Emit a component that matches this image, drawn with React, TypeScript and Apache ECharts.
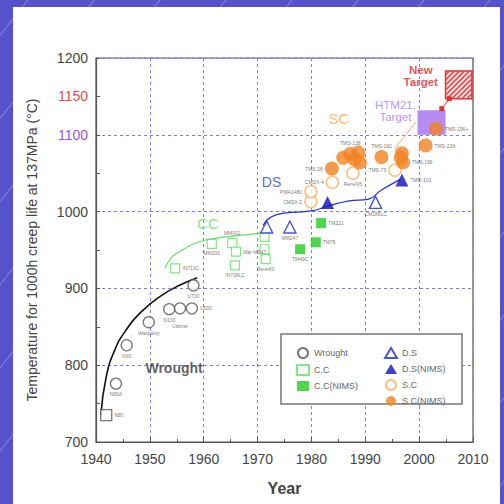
import React, { useEffect, useRef } from 'react';
import * as echarts from 'echarts';

// ---------- data ----------
const xTicks = [1940, 2010];
const yTicks = [700, 1200];
const yLabelled = [700, 800, 900, 1000, 1100, 1150, 1200];

const wroughtYears = [1941.9, 1943.7, 1945.7, 1949.8, 1953.6, 1955.6, 1957.8, 1958.1];
const wroughtTemps = [735, 776, 826, 856, 873, 874, 874, 904];
const wroughtNames = ['N80', 'N80A', 'N90', 'Waspaloy', 'N100', 'Udimet', 'U500', 'U700'];

const ccYears = [1954.7, 1961.5, 1965.3, 1966.0, 1965.8, 1971.3, 1971.3, 1971.5];
const ccTemps = [926, 958, 959, 948, 930, 967, 951, 938];
const ccNames = ['IN713C', 'MM200', 'MM002', 'Mar-M247', 'IN738LC', '', '', 'Rene80'];

const ccnYears = [1977.9, 1980.8, 1981.8];
const ccnTemps = [951, 960, 985];
const ccnNames = ['TM49C', 'TM76', 'TM321'];

const dsYears = [1971.7, 1976.0, 1991.9];
const dsTemps = [980, 980, 1012];
const dsNames = ['', 'MM247', 'CM186LC'];

const dsnYears = [1983.0, 1996.8];
const dsnTemps = [1012, 1041];
const dsnNames = ['', 'TMD-103'];

const scYears = [1979.9, 1979.9, 1983.9, 1987.7, 1995.5];
const scTemps = [1013, 1026, 1038, 1050, 1054];
const scNames = ['CMSX-2', 'PWA1480', 'CMSX-4', 'ReneN5', 'TMS-75'];

const scnYears = [1983.8, 1985.9, 1987.2, 1988.7, 1989.0, 1988.0, 1993.0, 1996.8, 1997.0, 1996.6, 2001.2, 2003.1];
const scnTemps = [1056, 1070, 1075, 1077, 1064, 1068, 1071, 1076, 1064, 1070, 1086, 1108];
const scnNames = ['TMS-26', '', 'TMS-138', '', '', '', 'TMS-162', '', 'TMS-196', '', 'TMS-238', 'TMS-196+'];

const wroughtCurveYears = [1940.9, 1941.9, 1943.5, 1945.5, 1948.5, 1952.0, 1955.5, 1958.8];
const wroughtCurveTemps = [735, 785, 820, 845, 870, 890, 904, 914];

const ccCurveYears = [1952.8, 1954.0, 1955.6, 1959.3, 1964.3, 1970.4, 1972.0];
const ccCurveTemps = [926, 940, 948, 961, 967, 972, 974];

const dsCurveYears = [1971.0, 1972.5, 1975.0, 1980.0, 1983.0, 1987.0, 1990.5, 1993.0, 1996.5];
const dsCurveTemps = [982, 993, 998, 1001, 1007, 1014, 1016, 1028, 1042];

const scArrowYears = [1995.5, 1997.5, 1999.5];
const scArrowTemps = [1082, 1100, 1117];

const targetArrowYears = [2005.6, 2004.2];
const targetArrowTemps = [1147, 1134];

// target boxes: kind 0 = HTM21 target, 1 = new target
const targetX0 = [1999.7, 2004.9];
const targetY0 = [1100, 1147];
const targetX1 = [2004.9, 2009.8];
const targetY1 = [1132, 1183];

const annoTexts = ['Wrought', 'CC', 'DS', 'SC', 'HTM21,\nTarget', 'New\nTarget'];
const annoYears = [1954.5, 1960.8, 1972.6, 1985.1, 1995.6, 2000.3];
const annoTemps = [796, 984, 1039, 1121, 1131, 1177];

// ---------- styles ----------
const annoStyles = [
  { color: '#3a3a3a', fontSize: 14, fontWeight: 'bold' },
  { color: '#66dd66', fontSize: 15, fontWeight: 'normal' },
  { color: '#2a3fcc', fontSize: 14, fontWeight: 'normal' },
  { color: '#f5a848', fontSize: 15, fontWeight: 'normal' },
  { color: '#a878ee', fontSize: 11.5, fontWeight: 'normal' },
  { color: '#e02828', fontSize: 11.5, fontWeight: 'bold' },
];

const FONT = 'Liberation Sans, Arial, sans-serif';

function pts(xs: number[], ys: number[], names?: string[], pos?: string[], symbols?: (string | null)[], dist?: number[]) {
  return xs.map((x, i) => {
    const item: any = { value: [x, ys[i]] };
    if (names && names[i]) {
      item.label = {
        show: true,
        formatter: names[i],
        position: pos ? pos[i] : 'right',
        fontSize: 5,
        color: '#555',
        distance: dist ? dist[i] : 2,
      };
    }
    if (symbols && symbols[i]) item.symbol = symbols[i];
    return item;
  });
}

function line(xs: number[], ys: number[]) {
  return xs.map((x, i) => [x, ys[i]]);
}

export default function App() {
  const ref = useRef<HTMLDivElement>(null);
  useEffect(() => {
    if (!ref.current) return;
    const chart = echarts.init(ref.current, null, { renderer: 'svg' });

    const bgLines: any[] = [];
    for (let c = -504; c < 1100; c += 66) {
      bgLines.push({
        type: 'line',
        z: -20,
        shape: { x1: c, y1: 504, x2: c + 400, y2: 0 },
        style: { stroke: 'rgba(255,255,255,0.35)', lineWidth: 1 },
        silent: true,
      });
    }

    const targetData = targetX0.map((x, i) => [x, targetY0[i], targetX1[i], targetY1[i], i]);

    const option: any = {
      animation: false,
      backgroundColor: '#5552cc',
      textStyle: { fontFamily: FONT },
      graphic: [
        ...bgLines,
        {
          type: 'rect',
          z: -10,
          shape: { x: 13, y: 7, width: 487, height: 497 },
          style: { fill: '#ffffff' },
          silent: true,
        },
        {
          type: 'rect',
          z: 3,
          shape: { x: 281, y: 334, width: 181, height: 70 },
          style: { fill: '#ffffff', stroke: '#777', lineWidth: 1.5 },
          silent: true,
        },
      ],
      grid: {
        left: 96,
        top: 58,
        width: 377,
        height: 384,
        show: true,
        borderColor: '#555',
        borderWidth: 1.2,
        backgroundColor: 'transparent',
        outerBoundsMode: 'none',
        containLabel: false,
      },
      legend: [
        {
          left: 291,
          top: 342,
          orient: 'vertical',
          itemWidth: 12,
          itemHeight: 10,
          itemGap: 5,
          z: 5,
          textStyle: { fontSize: 9, color: '#666', fontFamily: FONT },
          data: ['Wrought', 'C.C', 'C.C(NIMS)'],
        },
        {
          left: 379,
          top: 342,
          orient: 'vertical',
          itemWidth: 12,
          itemHeight: 10,
          itemGap: 5,
          z: 5,
          textStyle: { fontSize: 9, color: '#666', fontFamily: FONT },
          data: ['D.S', 'D.S(NIMS)', 'S.C', 'S.C(NIMS)'],
        },
      ],
      xAxis: {
        type: 'value',
        min: xTicks[0],
        max: xTicks[1],
        interval: 10,
        name: 'Year',
        nameLocation: 'middle',
        nameGap: 38,
        nameTextStyle: { fontSize: 16, fontWeight: 'bold', color: '#444', fontFamily: FONT },
        axisLine: { show: true, lineStyle: { color: '#555', width: 1.2 } },
        axisTick: { show: true, inside: true, length: 5, lineStyle: { color: '#555' } },
        minorTick: { show: true, splitNumber: 2, length: 3, lineStyle: { color: '#555' } },
        axisLabel: { fontSize: 14, color: '#444', margin: 10, fontFamily: FONT, formatter: (v: number) => String(v) },
        splitLine: { show: true, lineStyle: { color: '#7c7ce6', type: [3, 3], width: 1 } },
      },
      yAxis: [
        {
          type: 'value',
          position: 'left',
          min: yTicks[0],
          max: yTicks[1],
          interval: 50,
          name: 'Temperature for 1000h creep life at 137MPa (°C)',
          nameLocation: 'middle',
          nameGap: 57,
          nameTextStyle: { fontSize: 14, color: '#444', fontFamily: FONT },
          axisLine: { show: true, lineStyle: { color: '#555', width: 1.2 } },
          axisTick: { show: true, inside: true, length: 4, lineStyle: { color: '#555' } },
          axisLabel: {
            fontSize: 14,
            color: '#444',
            margin: 8,
            fontFamily: FONT,
            formatter: (v: number) => {
              if (yLabelled.indexOf(v) < 0) return '';
              if (v === 1100) return '{p|' + v + '}';
              if (v === 1150) return '{r|' + v + '}';
              return String(v);
            },
            rich: {
              p: { color: '#a050f0', fontSize: 14, fontFamily: FONT },
              r: { color: '#e84848', fontSize: 14, fontFamily: FONT },
            },
          },
          splitLine: { show: false },
        },
        {
          type: 'value',
          position: 'left',
          min: yTicks[0],
          max: yTicks[1],
          interval: 100,
          axisLine: { show: false },
          axisTick: { show: false },
          axisLabel: { show: false },
          splitLine: { show: true, lineStyle: { color: '#7c7ce6', type: [3, 3], width: 1 } },
        },
      ],
      series: [
        {
          type: 'custom',
          name: 'targets',
          z: 1,
          data: targetData,
          renderItem: (params: any, api: any) => {
            const p0 = api.coord([api.value(0), api.value(3)]);
            const p1 = api.coord([api.value(2), api.value(1)]);
            const x0 = p0[0], y0 = p0[1], x1 = p1[0], y1 = p1[1];
            const kind = api.value(4);
            const children: any[] = [];
            if (kind === 0) {
              children.push({
                type: 'rect',
                shape: { x: x0, y: y0, width: x1 - x0, height: y1 - y0 },
                style: { fill: '#b48cf2' },
              });
            } else {
              children.push({
                type: 'rect',
                shape: { x: x0, y: y0, width: x1 - x0, height: y1 - y0 },
                style: { fill: '#fbe0e0', stroke: '#e03030', lineWidth: 1.5 },
              });
              for (let c = x0 + y0 + 4; c < x1 + y1; c += 5) {
                const sx = Math.max(x0, c - y1);
                const ex = Math.min(x1, c - y0);
                if (ex > sx) {
                  children.push({
                    type: 'line',
                    shape: { x1: sx, y1: c - sx, x2: ex, y2: c - ex },
                    style: { stroke: '#e84040', lineWidth: 1.5 },
                  });
                }
              }
            }
            return { type: 'group', children };
          },
        },
        {
          type: 'line',
          name: 'wroughtCurve',
          data: line(wroughtCurveYears, wroughtCurveTemps),
          smooth: true,
          symbol: 'none',
          lineStyle: { color: '#111', width: 1.6 },
          z: 2,
        },
        {
          type: 'line',
          name: 'ccCurve',
          data: line(ccCurveYears, ccCurveTemps),
          smooth: true,
          symbol: 'none',
          lineStyle: { color: '#66dd66', width: 1.2 },
          z: 2,
        },
        {
          type: 'line',
          name: 'dsCurve',
          data: line(dsCurveYears, dsCurveTemps),
          smooth: true,
          symbol: 'none',
          lineStyle: { color: '#2233cc', width: 1.2 },
          z: 2,
        },
        {
          type: 'line',
          name: 'scArrow',
          data: line(scArrowYears, scArrowTemps),
          smooth: true,
          symbol: 'none',
          lineStyle: { color: '#f0a860', width: 1 },
          z: 2,
        },
        {
          type: 'line',
          name: 'targetArrow',
          data: line(targetArrowYears, targetArrowTemps),
          symbol: ['none', 'arrow'],
          symbolSize: 5,
          itemStyle: { color: '#e03030' },
          lineStyle: { color: '#e03030', width: 1 },
          z: 2,
        },
        {
          type: 'scatter',
          name: 'Wrought',
          symbol: 'circle',
          symbolSize: 11,
          itemStyle: { color: '#ffffff', borderColor: '#555', borderWidth: 1.3 },
          data: pts(
            wroughtYears,
            wroughtTemps,
            wroughtNames,
            ['right', 'bottom', 'bottom', 'bottom', 'bottom', 'bottom', 'right', 'bottom'],
            ['rect', null, null, null, null, null, null, null],
            [2, 2, 2, 2, 2, 9, 2, 2]
          ),
          z: 3,
        },
        {
          type: 'scatter',
          name: 'C.C',
          symbol: 'rect',
          symbolSize: 9,
          itemStyle: { color: '#ffffff', borderColor: '#66dd66', borderWidth: 1.2 },
          data: pts(ccYears, ccTemps, ccNames, ['right', 'bottom', 'top', 'right', 'bottom', 'right', 'right', 'bottom']),
          z: 3,
        },
        {
          type: 'scatter',
          name: 'C.C(NIMS)',
          symbol: 'rect',
          symbolSize: 10,
          itemStyle: { color: '#22cc22' },
          data: pts(ccnYears, ccnTemps, ccnNames, ['bottom', 'right', 'right']),
          z: 3,
        },
        {
          type: 'scatter',
          name: 'D.S',
          symbol: 'triangle',
          symbolSize: 12,
          itemStyle: { color: '#ffffff', borderColor: '#1a2acc', borderWidth: 1.4 },
          data: pts(dsYears, dsTemps, dsNames, ['right', 'bottom', 'bottom']),
          z: 3,
        },
        {
          type: 'scatter',
          name: 'D.S(NIMS)',
          symbol: 'triangle',
          symbolSize: 13,
          itemStyle: { color: '#0c10b8' },
          data: pts(dsnYears, dsnTemps, dsnNames, ['right', 'right']),
          z: 3,
        },
        {
          type: 'scatter',
          name: 'S.C',
          symbol: 'circle',
          symbolSize: 12,
          itemStyle: { color: '#ffffff', borderColor: '#f5b060', borderWidth: 1.5 },
          data: pts(scYears, scTemps, scNames, ['left', 'left', 'left', 'bottom', 'left']),
          z: 3,
        },
        {
          type: 'scatter',
          name: 'S.C(NIMS)',
          symbol: 'circle',
          symbolSize: 14,
          itemStyle: { color: '#f28222' },
          data: pts(
            scnYears,
            scnTemps,
            scnNames,
            ['left', 'left', 'top', 'top', 'right', 'right', 'top', 'right', 'right', 'right', 'right', 'right']
          ),
          z: 3,
        },
        {
          type: 'scatter',
          name: 'annotations',
          symbolSize: 1,
          itemStyle: { color: 'transparent' },
          z: 4,
          data: annoTexts.map((t, i) => ({
            value: [annoYears[i], annoTemps[i]],
            label: {
              show: true,
              position: 'inside',
              formatter: t,
              lineHeight: 12,
              fontFamily: FONT,
              ...annoStyles[i],
            },
          })),
        },
      ],
    };
    chart.setOption(option);
    return () => chart.dispose();
  }, []);

  return (
    <div
      ref={ref}
      style={{ position: 'absolute', left: 0, top: 0, width: 504, height: 504 }}
    />
  );
}
